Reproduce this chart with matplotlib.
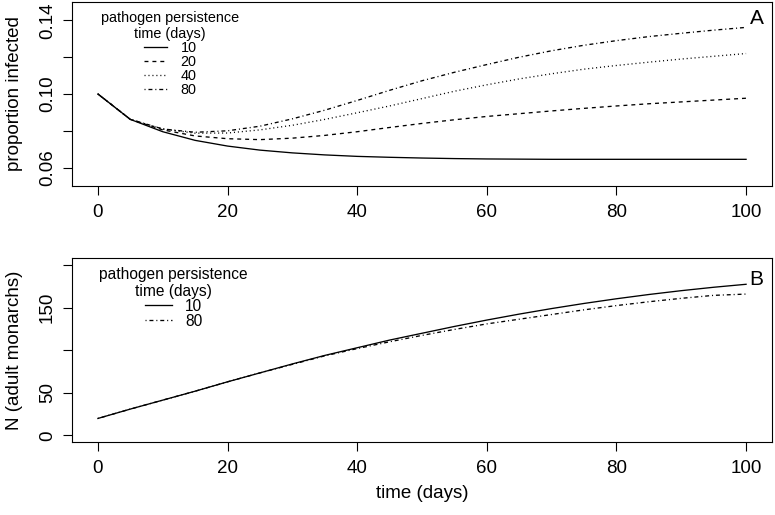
import matplotlib
matplotlib.use("Agg")
import matplotlib.pyplot as plt

plt.rcParams['font.family'] = ['Liberation Sans', 'DejaVu Sans']

# ---- data ----
time_days = [0, 5, 10, 15, 20, 25, 30, 35, 40, 45, 50, 55, 60, 65, 70, 75, 80, 85, 90, 95, 100]

prop_p10 = [0.100, 0.0862, 0.0795, 0.0748, 0.0717, 0.0695, 0.0680, 0.0669, 0.0661, 0.0656, 0.0652,
            0.0649, 0.0647, 0.0646, 0.0645, 0.0645, 0.0645, 0.0645, 0.0645, 0.0645, 0.0645]
prop_p20 = [0.100, 0.0862, 0.0805, 0.0772, 0.0757, 0.0752, 0.0760, 0.0775, 0.0795, 0.0818, 0.0840,
            0.0860, 0.0878, 0.0893, 0.0908, 0.0922, 0.0935, 0.0947, 0.0957, 0.0967, 0.0977]
prop_p40 = [0.100, 0.0862, 0.0810, 0.0787, 0.0788, 0.0805, 0.0830, 0.0862, 0.0898, 0.0935, 0.0975,
            0.1015, 0.1050, 0.1082, 0.1110, 0.1135, 0.1155, 0.1173, 0.1190, 0.1205, 0.1220]
prop_p80 = [0.100, 0.0862, 0.0810, 0.0792, 0.0800, 0.0825, 0.0865, 0.0912, 0.0965, 0.1020, 0.1072,
            0.1118, 0.1160, 0.1200, 0.1235, 0.1265, 0.1290, 0.1312, 0.1330, 0.1347, 0.1362]

n_p10 = [20, 31, 41.5, 52, 63, 73.5, 84, 94, 103, 112, 120, 128, 135.5, 142.5, 149, 155, 160.5,
         165.5, 170, 174, 177.5]
n_p80 = [20, 31, 41.5, 52, 63, 73.5, 83.5, 93.5, 102, 110, 117.5, 124.5, 131, 136.5, 142, 147.5,
         152.5, 157, 161, 164.5, 166]

persist_labels_top = ['10', '20', '40', '80']
persist_labels_bot = ['10', '80']

x_ticks = [0, 20, 40, 60, 80, 100]
top_yticks = [0.06, 0.08, 0.10, 0.12, 0.14]
top_ytick_labels = ['0.06', '', '0.10', '', '0.14']
bot_yticks = [0, 50, 100, 150, 200]
bot_ytick_labels = ['0', '50', '', '150', '']

# ---- styles ----
styles = {
    '10': '-',
    '20': (0, (3, 3)),
    '40': (0, (0.8, 2.2)),
    '80': (0, (0.8, 2.2, 3, 2.2)),
}
LW = 0.95
TICKFS = 13.5

fig = plt.figure(figsize=(7.75, 5.15), dpi=100)
W, H = 775.0, 515.0
ax1 = fig.add_axes([72 / W, 1 - 186 / H, 700 / W, 184 / H])
ax2 = fig.add_axes([72 / W, 1 - 442.3 / H, 700 / W, 184 / H])

top_series = [prop_p10, prop_p20, prop_p40, prop_p80]
for lab, ys in zip(persist_labels_top, top_series):
    ax1.plot(time_days, ys, color='black', lw=LW, linestyle=styles[lab], label=lab)

bot_series = [n_p10, n_p80]
for lab, ys in zip(persist_labels_bot, bot_series):
    ax2.plot(time_days, ys, color='black', lw=LW, linestyle=styles[lab], label=lab)

for ax in (ax1, ax2):
    ax.set_xlim(-4, 104)
    ax.set_xticks(x_ticks)
    ax.set_xticklabels([str(v) for v in x_ticks])
    for sp in ax.spines.values():
        sp.set_linewidth(0.8)
    ax.tick_params(axis='both', direction='out', length=6.5, width=0.8,
                   labelsize=TICKFS, color='black')
    ax.tick_params(axis='x', pad=6.5)
    ax.tick_params(axis='y', pad=5, labelrotation=90)

ax1.set_ylim(0.05, 0.15)
ax1.set_yticks(top_yticks)
ax1.set_yticklabels(top_ytick_labels, rotation=90, va='center')
ax2.set_ylim(-8, 208)
ax2.set_yticks(bot_yticks)
ax2.set_yticklabels(bot_ytick_labels, rotation=90, va='center')

ax1.set_ylabel('proportion infected', fontsize=TICKFS, va='center')
ax1.yaxis.set_label_coords((15 - 72) / 700, 0.5)
ax2.set_ylabel('N (adult monarchs)', fontsize=TICKFS, va='center')
ax2.yaxis.set_label_coords((15 - 72) / 700, 0.5)
ax2.set_xlabel('time (days)', fontsize=TICKFS, va='center')
ax2.xaxis.set_label_coords(0.5, (442.3 - 493) / 184)

ax1.text(101.6, 0.1412, 'A', ha='center', va='center', fontsize=15)
ax2.text(101.5, 183.5, 'B', ha='center', va='center', fontsize=15)

leg1 = ax1.legend(title='pathogen persistence\ntime (days)', loc='upper center',
                  bbox_to_anchor=((170 - 72) / 700, (186 - 11) / 184), frameon=False,
                  fontsize=10.4, title_fontsize=10.4, borderpad=0, borderaxespad=0,
                  handlelength=1.66, handletextpad=0.9, labelspacing=0.0)
leg1.get_title().set_multialignment('center')

leg2 = ax2.legend(title='pathogen persistence\ntime (days)', loc='upper center',
                  bbox_to_anchor=((173.5 - 72) / 700, (442.3 - 266.5) / 184), frameon=False,
                  fontsize=11.2, title_fontsize=11.2, borderpad=0, borderaxespad=0,
                  handlelength=1.75, handletextpad=0.85, labelspacing=0.0)
leg2.get_title().set_multialignment('center')

fig.savefig('out.png', dpi=100)
